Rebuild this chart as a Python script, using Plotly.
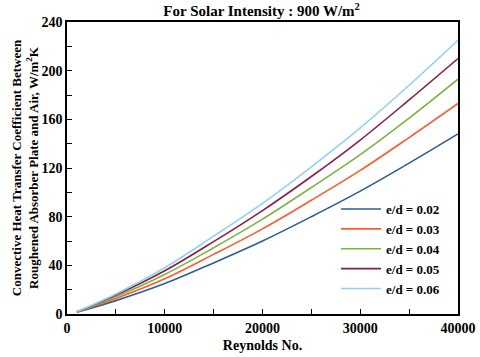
import plotly.graph_objects as go

reynolds = [1000, 5000, 10000, 15000, 20000, 25000, 30000, 35000, 40000]
h_002 = [1.5, 11, 25, 42, 60, 80, 101, 124, 148]
h_003 = [1.6, 12.8, 29, 49, 70, 93.5, 118, 145, 173]
h_004 = [1.7, 14.2, 32.5, 54.5, 78, 104, 131, 161, 193]
h_005 = [1.8, 15.5, 35.5, 59.5, 85, 113, 143, 176, 210]
h_006 = [1.9, 16.5, 38, 64, 91, 121, 153, 188, 225]

series = [
    ("e/d = 0.02", h_002, "#2b5c9c"),
    ("e/d = 0.03", h_003, "#ff5b2b"),
    ("e/d = 0.04", h_004, "#7ab53c"),
    ("e/d = 0.05", h_005, "#8c1c46"),
    ("e/d = 0.06", h_006, "#8fd0ff"),
]

font = "Liberation Serif"

fig = go.Figure()
for name, vals, color in series:
    fig.add_trace(
        go.Scatter(
            x=reynolds,
            y=vals,
            name=name,
            mode="lines",
            line=dict(color=color, width=1.6, shape="spline"),
        )
    )

axis_common = dict(
    showgrid=False,
    zeroline=False,
    showline=True,
    linecolor="black",
    linewidth=1.5,
    mirror=True,
    ticks="inside",
    ticklen=5,
    tickcolor="black",
    automargin=False,
    tickfont=dict(family=font, size=14, color="black", weight="bold"),
)

fig.update_xaxes(
    range=[0, 40000],
    dtick=10000,
    tickformat="d",
    minor=dict(ticks="inside", dtick=5000, ticklen=5, tickcolor="black"),
    title=dict(
        text="Reynolds No.",
        font=dict(family=font, size=14, color="black", weight="bold"),
        standoff=6,
    ),
    **axis_common,
)
fig.update_yaxes(
    range=[0, 240],
    dtick=40,
    minor=dict(ticks="inside", dtick=20, ticklen=5, tickcolor="black"),
    title=dict(
        text="Convective Heat Transfer Coefficient Between<br>Roughened Absorber Plate and Air, W/m<sup>2</sup>K",
        font=dict(family=font, size=13, color="black", weight="bold"),
        standoff=0,
    ),
    **axis_common,
)

fig.update_layout(
    width=480,
    height=357,
    margin=dict(l=67, r=22, t=22, b=43),
    plot_bgcolor="white",
    paper_bgcolor="white",
    title=dict(
        text="For Solar Intensity : 900 W/m<sup>2</sup>",
        font=dict(family=font, size=15, color="black", weight="bold"),
        x=0.545,
        xanchor="center",
        y=0.985,
        yanchor="top",
    ),
    legend=dict(
        x=0.688,
        y=0.411,
        xanchor="left",
        yanchor="top",
        bgcolor="rgba(0,0,0,0)",
        font=dict(family=font, size=13, color="black", weight="bold"),
        tracegroupgap=0,
        itemwidth=40,
    ),
    showlegend=True,
)

fig.write_html(
    "out.html",
    config={"displayModeBar": False},
    post_script="document.body.style.margin='0';",
)
